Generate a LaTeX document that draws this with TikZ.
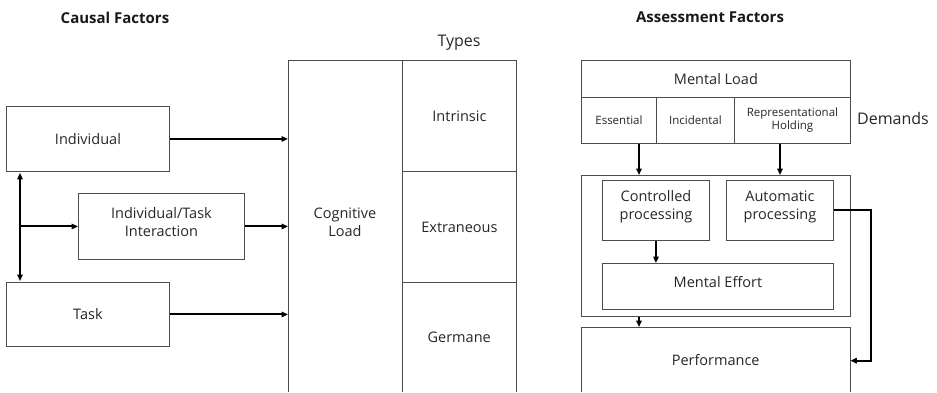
\documentclass[tikz,border=0pt]{standalone}
\usepackage{fontspec}
\setmainfont{Open Sans}
\usetikzlibrary{calc,arrows.meta}
\begin{document}
\begin{tikzpicture}[x=1pt,y=-1pt,
  box/.style={draw=black!70,line width=0.9pt,inner sep=0pt,anchor=north west,align=center,text=black!85,font=\fontsize{14.5}{18}\selectfont},
  open/.style={inner sep=0pt,anchor=north west,align=center,text=black!85,font=\fontsize{14.5}{18}\selectfont},
  edge/.style={draw=black!70,line width=0.9pt},
  arr/.style={line width=2pt,-{Triangle[length=6.5pt,width=5.5pt]}},
  darr/.style={line width=2pt,{Triangle[length=6.5pt,width=5.5pt]}-{Triangle[length=6.5pt,width=5.5pt]}},
  ttl/.style={font=\bfseries\fontsize{15}{17}\selectfont,text=black!90},
  lbl/.style={font=\fontsize{16}{18}\selectfont,text=black!85},
  sm/.style={font=\fontsize{11.5}{14}\selectfont}]
\useasboundingbox (0,0) rectangle (937,392);
% titles
\node[ttl] (tc) at (115,18) {Causal Factors};
\node[ttl] (ta) at (710,17) {Assessment Factors};
\node[lbl] (types) at (459,43) {Types};
\node[lbl] (dem) at (893,118) {Demands};
% left boxes
\node[box,minimum width=163,minimum height=65] (ind) at (6,106) {Individual};
\node[box,minimum width=166,minimum height=66] (inter) at (78,193) {};
\node[open,anchor=center] (intert) at ($(inter.center)+(0,-4)$) {Individual/Task\\Interaction};
\node[box,minimum width=163,minimum height=64] (task) at (6,282) {Task};
% cognitive load
\node[open,minimum width=114,minimum height=332] (cog) at (288,60) {};
\node[open,anchor=center] (cogt) at (345,222) {Cognitive\\Load};
\draw[edge] (cog.south west) -- (cog.north west) -- (cog.north east) -- (cog.south east);
\node[box,minimum width=114,minimum height=111] (intr) at (402,60) {Intrinsic};
\node[box,minimum width=114,minimum height=111] (extr) at (402,171) {Extraneous};
\node[open,minimum width=114,minimum height=110] (germ) at (402,282) {Germane};
\draw[edge] (germ.south west) -- (germ.north west) -- (germ.north east) -- (germ.south east);
% left arrows
\draw[arr] (ind.east) -- (ind.east -| cog.west);
\draw[arr] (inter.east) -- (inter.east -| cog.west);
\draw[arr] (task.east) -- (task.east -| cog.west);
\coordinate (vtop) at ($(ind.south west)+(14,1)$);
\coordinate (vbot) at ($(task.north west)+(14,-1)$);
\draw[darr] (vtop) -- (vbot);
\draw[arr] (vtop |- inter.west) -- (inter.west);
% right
\node[box,minimum width=269,minimum height=37] (ml) at (581,60) {Mental Load};
\node[box,sm,minimum width=75,minimum height=46] (ess) at (581,97) {Essential};
\node[box,sm,minimum width=78,minimum height=46] (inc) at (656,97) {Incidental};
\node[box,sm,minimum width=116,minimum height=46] (rep) at (734,97) {Representational\\[-1pt]Holding};
\node[box,minimum width=269,minimum height=141] (proc) at (581,175) {};
\node[box,minimum width=107,minimum height=60] (ctrl) at (602,180) {};
\node[open,anchor=center] (ctrlt) at ($(ctrl.center)+(0,-4)$) {Controlled\\processing};
\node[box,minimum width=107,minimum height=60] (auto) at (726,180) {};
\node[open,anchor=center] (autot) at ($(auto.center)+(0,-4)$) {Automatic\\processing};
\node[box,minimum width=231,minimum height=46] (eff) at (602,263) {};
\node[open,anchor=center] (efft) at ($(eff.center)+(0,-4)$) {Mental Effort};
\node[open,minimum width=269,minimum height=65] (perf) at (581,327) {Performance};
\draw[edge] (perf.south west) -- (perf.north west) -- (perf.north east) -- (perf.south east);
\coordinate (a1) at ($(ess.south west)+(58,0)$);
\coordinate (a2) at ($(rep.south west)+(46,0)$);
\draw[arr] (a1) -- (a1 |- proc.north);
\draw[arr] (a2) -- (a2 |- proc.north);
\draw[arr] (ctrl.south) -- (ctrl.south |- eff.north);
\draw[arr,line width=1.6pt] (a1 |- proc.south) -- (a1 |- perf.north);
\draw[arr] (auto.east) -- ++(37,0) |- ($(perf.east)+(0,1)$);
\end{tikzpicture}
\end{document}
